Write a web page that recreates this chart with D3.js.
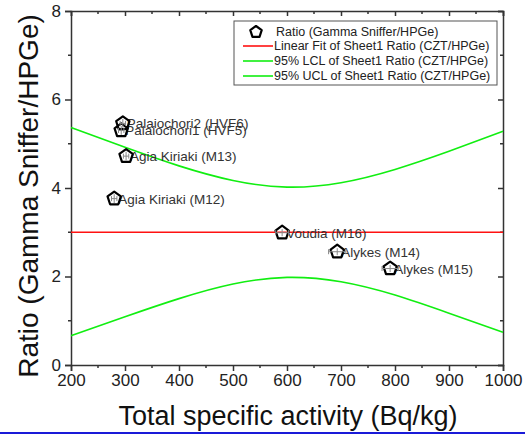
<!DOCTYPE html>
<html>
<head>
<meta charset="utf-8">
<script src="https://cdn.jsdelivr.net/npm/d3@7"></script>
<style>
  body { margin: 0; background: #fff; }
  text { font-family: "Liberation Sans", Arial, sans-serif; }
</style>
</head>
<body>
<div id="chart"></div>
<script>
// sample points
var names = ["Palaiochori2 (HVF6)", "Palaiochori1 (HVF5)", "Agia Kiriaki (M13)", "Agia Kiriaki (M12)",
             "Voudia (M16)", "Alykes (M14)", "Alykes (M15)"];
var activity = [296, 293, 302, 280, 591, 693, 791];
var ratio = [5.46, 5.30, 4.72, 3.76, 2.99, 2.56, 2.18];
var activityErr = [5, 5, 5, 5, 12, 16, 15];
var ratioErr = [0.1, 0.1, 0.1, 0.1, 0.08, 0.08, 0.08];

// fit and confidence limits
var fitX = [200, 1000];
var fitY = [3.0, 3.0];
var bandX = [200, 300, 400, 500, 600, 700, 800, 900, 1000];
var ucl = [5.37, 4.92, 4.50, 4.17, 4.02, 4.12, 4.42, 4.83, 5.28];
var lcl = [0.66, 1.09, 1.50, 1.83, 1.98, 1.88, 1.58, 1.17, 0.74];

var xTicks = [200, 300, 400, 500, 600, 700, 800, 900, 1000];
var yTicks = [0, 2, 4, 6, 8];
var legendLabels = ["Ratio (Gamma Sniffer/HPGe)", "Linear Fit of Sheet1 Ratio (CZT/HPGe)",
                    "95% LCL of Sheet1 Ratio (CZT/HPGe)", "95% UCL of Sheet1 Ratio (CZT/HPGe)"];

var W = 525, H = 435;
var pLeft = 71, pRight = 503, pTop = 11, pBottom = 365;

var svg = d3.select("#chart").append("svg")
  .attr("width", W).attr("height", H);

var x = d3.scaleLinear().domain([200, 1000]).range([pLeft, pRight]);
var y = d3.scaleLinear().domain([0, 8]).range([pBottom, pTop]);

var axisColor = "#333";

// minor ticks
var xMinor = d3.range(250, 1000, 100);
var yMinor = [1, 3, 5, 7];

// bottom axis
svg.append("g").attr("transform", "translate(0," + pBottom + ")")
  .call(d3.axisBottom(x).tickValues(xTicks).tickFormat(d3.format("d")).tickSize(6).tickPadding(3))
  .call(function (g) {
    g.select(".domain").attr("stroke", axisColor).attr("stroke-width", 1.5);
    g.selectAll(".tick line").attr("stroke", axisColor).attr("stroke-width", 1.5);
    g.selectAll(".tick text").attr("font-size", 17).attr("fill", "#222");
  });
svg.append("g").selectAll("line").data(xMinor).enter().append("line")
  .attr("x1", function (d) { return x(d); }).attr("x2", function (d) { return x(d); })
  .attr("y1", pBottom).attr("y2", pBottom + 3)
  .attr("stroke", axisColor).attr("stroke-width", 1.5);

// left axis
svg.append("g").attr("transform", "translate(" + pLeft + ",0)")
  .call(d3.axisLeft(y).tickValues(yTicks).tickSize(6).tickPadding(4))
  .call(function (g) {
    g.select(".domain").attr("stroke", axisColor).attr("stroke-width", 1.5);
    g.selectAll(".tick line").attr("stroke", axisColor).attr("stroke-width", 1.5);
    g.selectAll(".tick text").attr("font-size", 17).attr("fill", "#222");
  });
svg.append("g").selectAll("line").data(yMinor).enter().append("line")
  .attr("x1", pLeft - 3).attr("x2", pLeft)
  .attr("y1", function (d) { return y(d); }).attr("y2", function (d) { return y(d); })
  .attr("stroke", axisColor).attr("stroke-width", 1.5);

// top axis, ticks pointing inward
svg.append("g").attr("transform", "translate(0," + pTop + ")")
  .call(d3.axisBottom(x).tickValues(xTicks).tickSize(5).tickFormat(""))
  .call(function (g) {
    g.select(".domain").attr("stroke", axisColor).attr("stroke-width", 1.5);
    g.selectAll(".tick line").attr("stroke", axisColor).attr("stroke-width", 1.5);
  });
svg.append("g").selectAll("line").data(xMinor).enter().append("line")
  .attr("x1", function (d) { return x(d); }).attr("x2", function (d) { return x(d); })
  .attr("y1", pTop).attr("y2", pTop + 3)
  .attr("stroke", axisColor).attr("stroke-width", 1.5);

// right axis, ticks pointing inward
svg.append("g").attr("transform", "translate(" + pRight + ",0)")
  .call(d3.axisLeft(y).tickValues(yTicks).tickSize(5).tickFormat(""))
  .call(function (g) {
    g.select(".domain").attr("stroke", axisColor).attr("stroke-width", 1.5);
    g.selectAll(".tick line").attr("stroke", axisColor).attr("stroke-width", 1.5);
  });
svg.append("g").selectAll("line").data(yMinor).enter().append("line")
  .attr("x1", pRight - 3).attr("x2", pRight)
  .attr("y1", function (d) { return y(d); }).attr("y2", function (d) { return y(d); })
  .attr("stroke", axisColor).attr("stroke-width", 1.5);

// axis titles
svg.append("text")
  .attr("x", 288).attr("y", 425)
  .attr("text-anchor", "middle").attr("font-size", 27).attr("fill", "#111")
  .text("Total specific activity (Bq/kg)");
svg.append("text")
  .attr("transform", "translate(38,196) rotate(-90)")
  .attr("text-anchor", "middle").attr("font-size", 28).attr("fill", "#111")
  .text("Ratio (Gamma Sniffer/HPGe)");

// fit line and confidence bands
var line = d3.line()
  .x(function (d) { return x(d[0]); })
  .y(function (d) { return y(d[1]); });
var bandLine = d3.line()
  .x(function (d) { return x(d[0]); })
  .y(function (d) { return y(d[1]); })
  .curve(d3.curveNatural);

svg.append("path").datum(d3.zip(bandX, ucl))
  .attr("d", bandLine).attr("fill", "none").attr("stroke", "#11ee11").attr("stroke-width", 1.6);
svg.append("path").datum(d3.zip(bandX, lcl))
  .attr("d", bandLine).attr("fill", "none").attr("stroke", "#11ee11").attr("stroke-width", 1.6);
svg.append("path").datum(d3.zip(fitX, fitY))
  .attr("d", line).attr("fill", "none").attr("stroke", "#ff1111").attr("stroke-width", 1.6);

// pentagon marker path centred at 0,0
function pentagon(r) {
  var pts = d3.range(5).map(function (i) {
    var a = -Math.PI / 2 + i * 2 * Math.PI / 5;
    return [r * Math.cos(a), r * Math.sin(a)];
  });
  return "M" + pts.join("L") + "Z";
}

var pts = d3.range(names.length).map(function (i) {
  return { name: names[i], x: activity[i], y: ratio[i], ex: activityErr[i], ey: ratioErr[i] };
});

// labels
svg.append("g").selectAll("text").data(pts).enter().append("text")
  .attr("x", function (d) { return x(d.x) + 4; })
  .attr("y", function (d) { return y(d.y) + 5; })
  .attr("font-size", 13.5).attr("fill", "#333")
  .text(function (d) { return d.name; });

// markers
svg.append("g").selectAll("path").data(pts).enter().append("path")
  .attr("transform", function (d) { return "translate(" + x(d.x) + "," + y(d.y) + ")"; })
  .attr("d", pentagon(7))
  .attr("fill", "none").attr("stroke", "#000").attr("stroke-width", 2.2)
  .attr("stroke-linejoin", "round");

// error bars
var eb = svg.append("g").attr("stroke", "#888").attr("stroke-width", 1);
pts.forEach(function (d) {
  var cx = x(d.x), cy = y(d.y);
  eb.append("line").attr("x1", x(d.x - d.ex)).attr("x2", x(d.x + d.ex)).attr("y1", cy).attr("y2", cy);
  eb.append("line").attr("x1", x(d.x - d.ex)).attr("x2", x(d.x - d.ex)).attr("y1", cy - 2.5).attr("y2", cy + 2.5);
  eb.append("line").attr("x1", x(d.x + d.ex)).attr("x2", x(d.x + d.ex)).attr("y1", cy - 2.5).attr("y2", cy + 2.5);
  eb.append("line").attr("x1", cx).attr("x2", cx).attr("y1", y(d.y - d.ey)).attr("y2", y(d.y + d.ey));
});

// legend
var lg = svg.append("g").attr("transform", "translate(234,21)");
lg.append("rect").attr("width", 263).attr("height", 64)
  .attr("fill", "#fff").attr("stroke", "#555").attr("stroke-width", 1);
var rowY = [11, 25, 40, 55];
var legendColors = [null, "#ff1111", "#11ee11", "#11ee11"];
legendLabels.forEach(function (t, i) {
  if (i === 0) {
    lg.append("path").attr("transform", "translate(22," + rowY[i] + ")")
      .attr("d", pentagon(6)).attr("fill", "none").attr("stroke", "#000")
      .attr("stroke-width", 2.2).attr("stroke-linejoin", "round");
  } else {
    lg.append("line").attr("x1", 9).attr("x2", 39).attr("y1", rowY[i]).attr("y2", rowY[i])
      .attr("stroke", legendColors[i]).attr("stroke-width", 1.6);
  }
  lg.append("text").attr("x", i === 0 ? 42 : 40).attr("y", rowY[i] + 4)
    .attr("font-size", 12.5).attr("fill", "#222").text(t);
});

// blue rule at the bottom of the slide
svg.append("line").attr("x1", 0).attr("x2", W).attr("y1", 433).attr("y2", 433)
  .attr("stroke", "#1a1ad8").attr("stroke-width", 2);
</script>
</body>
</html>
